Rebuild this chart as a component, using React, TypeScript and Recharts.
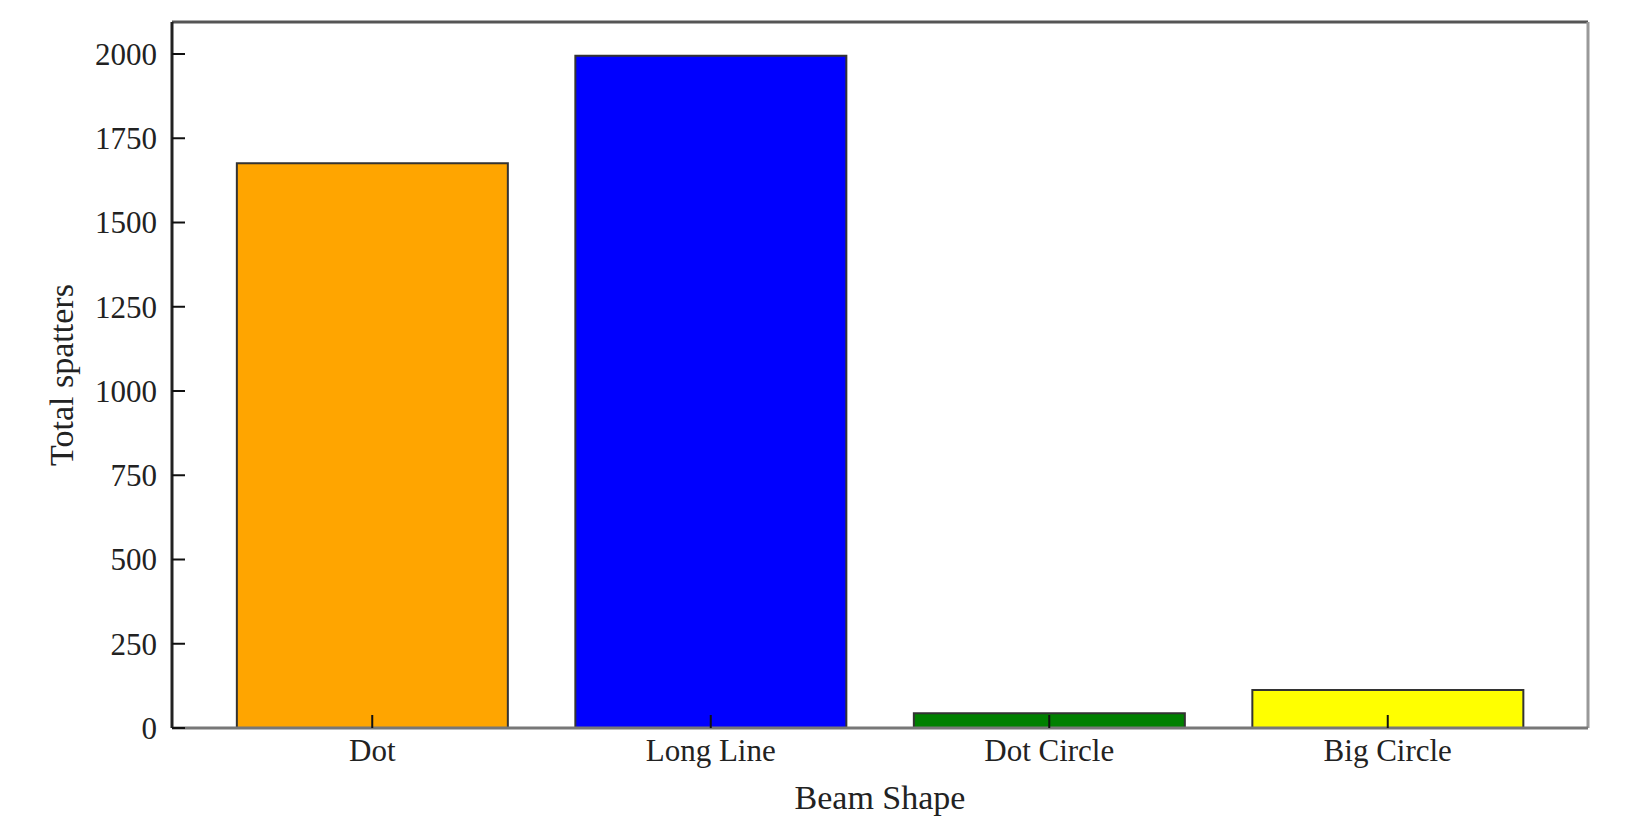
import React from 'react';
import { BarChart, Bar, XAxis, YAxis, Cell, Label } from 'recharts';

const categories = ['Dot', 'Long Line', 'Dot Circle', 'Big Circle'];
const totalSpatters = [1676, 1995, 44, 113];
const barColors = ['#FFA500', '#0000FF', '#008000', '#FFFF00'];
const yTicks = [0, 250, 500, 750, 1000, 1250, 1500, 1750, 2000];
const yMax = 2095;

const data = categories.map((name, i) => ({ name, value: totalSpatters[i] }));

const FONT = '"Liberation Serif", "Times New Roman", Times, serif';

const XTick = (props: any) => {
  const { x, y, payload } = props;
  return (
    <g>
      <line x1={x} x2={x} y1={y} y2={y - 13} stroke="#111" strokeWidth={2} />
      <text x={x} y={y + 11} dy="0.71em" textAnchor="middle" fontFamily={FONT} fontSize={31} fill="#222">
        {payload.value}
      </text>
    </g>
  );
};

const YTick = (props: any) => {
  const { x, y, payload } = props;
  return (
    <g>
      <line x1={x + 15} x2={x + 28} y1={y} y2={y} stroke="#111" strokeWidth={2} />
      <text x={x} y={y} dy="0.35em" textAnchor="end" fontFamily={FONT} fontSize={31} fill="#222">
        {payload.value}
      </text>
    </g>
  );
};

const YLabel = (p: any) => {
  const vb = p.viewBox || { x: 0, y: 14, width: 164, height: 706 };
  const cx = vb.x + 65;
  const cy = vb.y + vb.height / 2;
  return (
    <text
      transform={`translate(${cx}, ${cy}) rotate(-90)`}
      textAnchor="middle"
      fontFamily={FONT}
      fontSize={34}
      fill="#222"
    >
      Total spatters
    </text>
  );
};

const XLabel = (p: any) => {
  const vb = p.viewBox || { x: 164, y: 720, width: 1416, height: 95 };
  return (
    <text x={vb.x + vb.width / 2} y={vb.y + 81} textAnchor="middle" fontFamily={FONT} fontSize={34} fill="#222">
      Beam Shape
    </text>
  );
};

export default function App() {
  return (
    <div style={{ width: 1628, height: 815, background: '#fff' }}>
      <BarChart
        width={1628}
        height={815}
        data={data}
        margin={{ top: 13, right: 47, bottom: 0, left: 0 }}
        barCategoryGap="10%"
      >
        <Bar dataKey="value" isAnimationActive={false} stroke="#333" strokeWidth={2}>
          {data.map((d, i) => (
            <Cell key={d.name} fill={barColors[i]} />
          ))}
        </Bar>
        <XAxis
          xAxisId="top"
          orientation="top"
          type="number"
          domain={[0, 1]}
          ticks={[0, 1]}
          height={1}
          tick={false}
          tickLine={false}
          axisLine={{ stroke: '#555', strokeWidth: 3 }}
        />
        <YAxis
          yAxisId="right"
          orientation="right"
          type="number"
          domain={[0, 1]}
          ticks={[0, 1]}
          width={1}
          tick={false}
          tickLine={false}
          axisLine={{ stroke: '#999', strokeWidth: 3 }}
        />
        <XAxis
          dataKey="name"
          height={95}
          padding={{ left: 31, right: 31 }}
          tickLine={false}
          tickSize={0}
          tickMargin={0}
          tick={<XTick />}
          interval={0}
          axisLine={{ stroke: '#777', strokeWidth: 3 }}
        >
          <Label content={<XLabel />} />
        </XAxis>
        <YAxis
          width={164}
          type="number"
          domain={[0, yMax]}
          ticks={yTicks}
          interval={0}
          tickLine={false}
          tickSize={0}
          tickMargin={15}
          tick={<YTick />}
          axisLine={{ stroke: '#222', strokeWidth: 3 }}
        >
          <Label content={<YLabel />} />
        </YAxis>
      </BarChart>
    </div>
  );
}
